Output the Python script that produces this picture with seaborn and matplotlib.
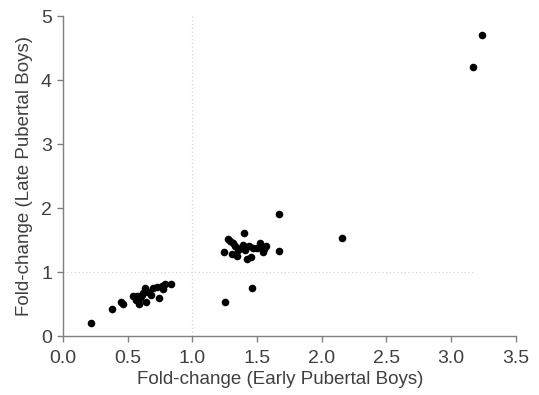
import matplotlib
matplotlib.use("Agg")
import matplotlib.pyplot as plt
import seaborn as sns
import pandas as pd

early = [3.24, 3.17, 1.667, 2.156, 1.669, 1.396, 1.247, 1.254, 1.463, 0.219, 0.381, 0.448, 0.461,
         0.544, 0.564, 0.585, 0.595, 0.61, 0.636, 0.641, 0.62, 0.677, 0.693, 0.724, 0.744, 0.763,
         0.775, 0.788, 0.837, 0.574, 0.66,
         1.273, 1.29, 1.316, 1.329, 1.306, 1.342, 1.352, 1.376, 1.388, 1.409, 1.42, 1.435, 1.45,
         1.466, 1.497, 1.522, 1.532, 1.543, 1.566, 1.551]
late = [4.71, 4.20, 1.906, 1.54, 1.33, 1.61, 1.31, 0.526, 0.755, 0.203, 0.42, 0.53, 0.50,
        0.635, 0.5625, 0.51, 0.60, 0.646, 0.76, 0.53, 0.667, 0.64, 0.755, 0.77, 0.594, 0.786,
        0.73, 0.817, 0.81, 0.625, 0.69,
        1.516, 1.49, 1.45, 1.41, 1.28, 1.25, 1.34, 1.385, 1.42, 1.34, 1.21, 1.41, 1.24,
        1.385, 1.37, 1.46, 1.395, 1.32, 1.406, 1.355]

x_ticks = [0.0, 0.5, 1.0, 1.5, 2.0, 2.5, 3.0, 3.5]
y_ticks = [0, 1, 2, 3, 4, 5]

df = pd.DataFrame({"early": early, "late": late})

sns.set_style("white")
plt.rcParams['font.family'] = ['Liberation Sans', 'DejaVu Sans']

fig = plt.figure(figsize=(5.39, 3.95), dpi=100)
ax = fig.add_axes([0.117, 0.149, 0.840, 0.810])

ax.plot([1, 1], [0, 5], color="#d8d8d8", lw=0.9, ls=(0, (1, 2)), zorder=1)
ax.plot([0, 3.17], [1, 1], color="#d8d8d8", lw=0.9, ls=(0, (1, 2)), zorder=1)

sns.scatterplot(data=df, x="early", y="late", ax=ax, color="black", s=30,
                edgecolor="black", linewidth=0, zorder=3)

ax.set_xlim(0, 3.5)
ax.set_ylim(0, 5)
ax.set_xticks(x_ticks)
ax.set_xticklabels([f"{v:.1f}" for v in x_ticks])
ax.set_yticks(y_ticks)
ax.set_yticklabels([str(v) for v in y_ticks])

for side in ["top", "right"]:
    ax.spines[side].set_visible(False)
for side in ["left", "bottom"]:
    ax.spines[side].set_color("#808080")
    ax.spines[side].set_linewidth(1.0)

ax.tick_params(axis="both", direction="out", length=4, width=1.0, color="#808080",
               labelsize=14, labelcolor="#404040", bottom=True, left=True)
ax.tick_params(axis="x", pad=6)
ax.tick_params(axis="y", pad=4)

ax.set_xlabel("Fold-change (Early Pubertal Boys)", fontsize=13.5, color="#404040")
ax.set_ylabel("Fold-change (Late Pubertal Boys)", fontsize=13.5, color="#404040", labelpad=6)
ax.xaxis.set_label_coords(0.479, -0.108)

fig.savefig("out.png", dpi=100)
